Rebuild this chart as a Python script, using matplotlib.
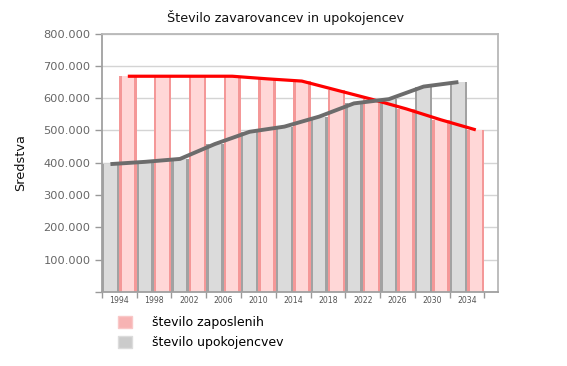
import numpy as np
import matplotlib
matplotlib.use("Agg")
import matplotlib.pyplot as plt
from matplotlib.patches import Patch
from matplotlib.ticker import FuncFormatter, FixedLocator

years = ['1994', '1998', '2002', '2006', '2010', '2014',
         '2018', '2022', '2026', '2030', '2034']
zaposleni = [668000, 668000, 668000, 668000, 660000, 653000,
             625000, 597000, 567000, 533000, 502000]
upokojenci = [396000, 403000, 412000, 458000, 496000, 512000,
              543000, 584000, 597000, 636000, 650000]

fig = plt.figure(figsize=(5.67, 3.66), dpi=100)
ax = fig.add_axes([0.1794, 0.2022, 0.6984, 0.7060])

x = np.arange(len(years))

# bars: gray left half of each group, red right half
# darker outer bar + lighter inner bar gives the shaded sides
ax.bar(x + 0.25, upokojenci, width=0.5, color='#a2a2a2', linewidth=0, zorder=2)
ax.bar(x + 0.25, upokojenci, width=0.36, color='#dbdbdb', linewidth=0, zorder=2)
ax.bar(x + 0.75, zaposleni, width=0.5, color='#f49898', linewidth=0, zorder=2)
ax.bar(x + 0.75, zaposleni, width=0.36, color='#ffd7d7', linewidth=0, zorder=2)

# trend lines
ax.plot(x + 0.75, zaposleni, color='#ff0000', linewidth=2.3,
        solid_capstyle='butt', zorder=3)
ax.plot(x + 0.25, upokojenci, color='#6c6c6c', linewidth=2.8,
        solid_capstyle='butt', zorder=4)

ax.set_xlim(0, 11.38)
ax.set_ylim(0, 800000)

ax.yaxis.set_major_locator(FixedLocator(np.arange(0, 800001, 100000)))
ax.yaxis.set_major_formatter(FuncFormatter(
    lambda v, p: '' if v == 0 else f'{v:,.0f}'.replace(',', '.')))
ax.tick_params(axis='y', colors='#999999', labelcolor='#666666',
               labelsize=8.2, length=5, width=1, pad=3)

ax.set_xticks(np.arange(len(years) + 1), minor=False)
ax.set_xticklabels([])
ax.set_xticks(x + 0.5, minor=True)
ax.set_xticklabels(years, minor=True)
ax.tick_params(axis='x', which='major', colors='#999999', length=4, width=1)
ax.tick_params(axis='x', which='minor', length=0, labelsize=5.6,
               labelcolor='#555555', pad=3)

ax.grid(axis='y', color='#d4d4d4', linewidth=1, zorder=0)
ax.set_axisbelow(True)
for side in ['left', 'bottom']:
    ax.spines[side].set_color('#a0a0a0')
    ax.spines[side].set_linewidth(1.3)
for side in ['top', 'right']:
    ax.spines[side].set_color('#b8b8b8')
    ax.spines[side].set_linewidth(1.3)

ax.set_ylabel('Sredstva', fontsize=9.3, color='#111111', labelpad=12)

fig.text(0.503, 0.953, 'Število zavarovancev in upokojencev',
         ha='center', va='center', fontsize=9.2, color='#111111')

handles = [Patch(facecolor='#f7b3b3', edgecolor='#f9c8c8', linewidth=1),
           Patch(facecolor='#cbcbcb', edgecolor='#dcdcdc', linewidth=1)]
fig.legend(handles, ['število zaposlenih', 'število upokojencvev'],
           loc='upper left', bbox_to_anchor=(118 / 567, 1 - 316 / 366),
           frameon=False, fontsize=9, handlelength=1.1, handleheight=1.1,
           handletextpad=1.6, labelspacing=0.5, borderpad=0,
           borderaxespad=0)

fig.savefig('out.png', dpi=100)
